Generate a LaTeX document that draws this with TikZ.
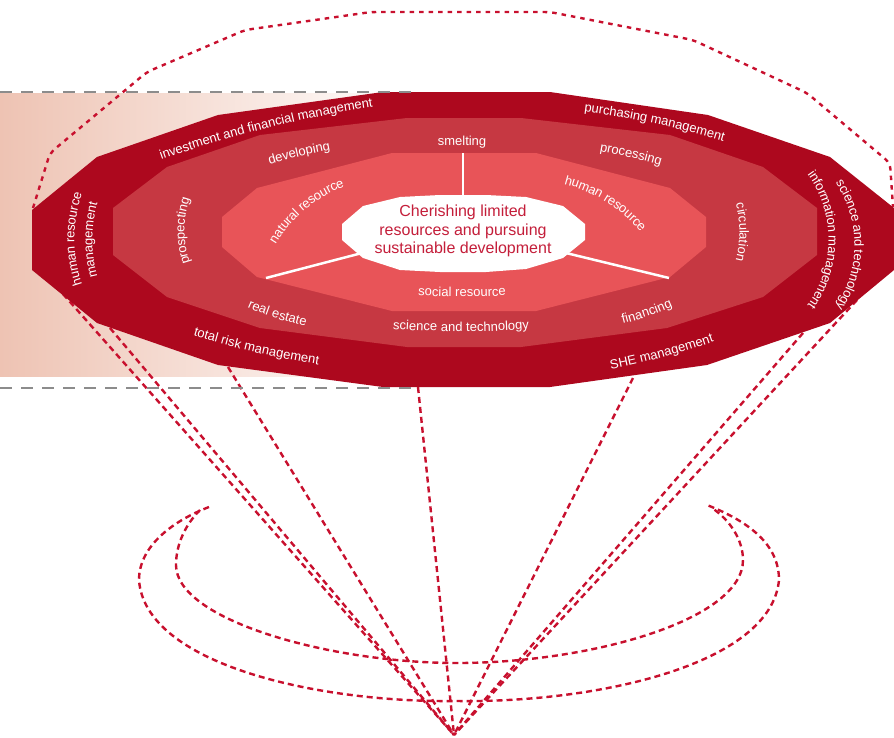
\documentclass[tikz,border=0pt]{standalone}
\usepackage{fontspec}
\setmainfont{Liberation Sans}
\usetikzlibrary{decorations.text,calc}
\definecolor{ringA}{HTML}{AD081E}
\definecolor{ringB}{HTML}{C63842}
\definecolor{ringC}{HTML}{E85458}
\definecolor{dashred}{HTML}{C8102E}
\definecolor{centretext}{HTML}{C41E3A}
\definecolor{gradL}{HTML}{EEC3B3}
\definecolor{grayd}{HTML}{8C8C8C}
\newcommand{\lbfont}{\color{white}\fontsize{13}{15}\selectfont}
\tikzset{
  labeltext/.style={decorate, decoration={text along path, text={|\lbfont|#1}, text align=center, raise=-3.5pt}},
  reddash/.style={dashred, line width=2.4pt, dash pattern=on 6pt off 4pt},
  reddot/.style={dashred, line width=2.4pt, dash pattern=on 4.5pt off 5pt, rounded corners=6pt},
  graydash/.style={grayd, line width=2pt, dash pattern=on 12pt off 9pt},
  spoke/.style={white, line width=2.5pt},
}
% clockwise arc label (letters face outward)
\newcommand{\cwtext}[5]{%
  \pgfmathsetmacro{\tA}{#3+90}%
  \pgfmathsetmacro{\tD}{180/#4*57.2958}%
  \pgfmathsetmacro{\tS}{\tA+\tD}%
  \pgfmathsetmacro{\tE}{\tA-\tD}%
  \path[labeltext={#5}] ($(#1,-#2)+(#3-90:#4)+(\tS:#4)$) arc[start angle=\tS, end angle=\tE, radius=#4];
}
% counter-clockwise arc label (letters face the centre)
\newcommand{\ccwtext}[5]{%
  \pgfmathsetmacro{\tA}{#3-90}%
  \pgfmathsetmacro{\tD}{180/#4*57.2958}%
  \pgfmathsetmacro{\tS}{\tA-\tD}%
  \pgfmathsetmacro{\tE}{\tA+\tD}%
  \path[labeltext={#5}] ($(#1,-#2)+(#3+90:#4)+(\tS:#4)$) arc[start angle=\tS, end angle=\tE, radius=#4];
}
\begin{document}
\begin{tikzpicture}[x=1pt,y=1pt]
\useasboundingbox (0,0) rectangle (894,-737);
% background gradient band
\shade[left color=gradL, right color=white] (0,-93) rectangle (420,-376);
% named coordinates
\coordinate (apex) at (454,-735);
\coordinate (sA) at (63,-294);
\coordinate (sB) at (110,-328);
\coordinate (sC) at (228,-367);
\coordinate (sD) at (418,-387);
\coordinate (sE) at (633,-378);
\coordinate (sF) at (803,-333);
\coordinate (sG) at (857,-300);
% top dotted outline
\draw[reddot] (33,-208) -- (50,-153) -- (147,-72) -- (245,-30) -- (371,-12) -- (550,-12) -- (693,-40) -- (807,-93) -- (890,-163) -- (893,-207);
% rays to apex
\foreach \s in {sA,sB,sC,sD,sE,sF,sG} \draw[reddash] (\s) -- (apex);
% loops
\draw[reddash] (209,-507) .. controls (175,-520) and (139,-545) .. (139,-580)
  .. controls (145,-665) and (320,-703) .. (457,-701)
  .. controls (596,-703) and (771,-665) .. (779,-580)
  .. controls (779,-545) and (750,-522) .. (707,-505);
\draw[reddash] (200,-510) .. controls (185,-525) and (176,-545) .. (176,-565)
  .. controls (176,-620) and (330,-663) .. (457,-663)
  .. controls (590,-663) and (743,-620) .. (743,-560)
  .. controls (743,-540) and (730,-520) .. (712,-508);
% rings
\fill[ringA] (32,-210) -- (97,-157) -- (218,-115) -- (383,-92) -- (550,-92) -- (708,-115) -- (830,-157) -- (894,-208) -- (894,-270) -- (830,-323) -- (707,-365) -- (550,-387) -- (383,-387) -- (218,-365) -- (97,-323) -- (32,-270) -- cycle;
\fill[ringB] (113,-208) -- (167,-167) -- (260,-135) -- (407,-118) -- (521,-118) -- (670,-135) -- (763,-167) -- (817,-208) -- (817,-255) -- (763,-297) -- (667,-328) -- (521,-347) -- (407,-347) -- (260,-328) -- (167,-297) -- (113,-255) -- cycle;
\fill[ringC] (222,-217) -- (257,-188) -- (392,-153) -- (536,-153) -- (670,-188) -- (706,-217) -- (706,-247) -- (670,-277) -- (536,-311) -- (392,-311) -- (257,-277) -- (222,-247) -- cycle;
% gray dashed guides
\draw[graydash] (0,-92) -- (416,-92);
\draw[graydash] (0,-388) -- (416,-388);
% spokes
\draw[spoke] (463,-153) -- (463,-197);
\draw[spoke] (266,-278) -- (362,-253);
\draw[spoke] (566,-253) -- (669,-278);
% centre shape
\fill[white] (342,-224) -- (363,-206) -- (400,-197) -- (440,-195) -- (486,-195) -- (526,-197) -- (563,-206) -- (585,-224) -- (585,-240) -- (563,-258) -- (526,-269) -- (486,-272) -- (440,-272) -- (400,-270) -- (363,-258) -- (342,-240) -- cycle;
\node[align=center, text=centretext, font=\fontsize{16}{18.5}\selectfont] (core) at (463,-231) {Cherishing limited\\resources and pursuing\\sustainable development};
% outer ring labels
\cwtext{265}{125}{14}{1200}{investment and financial management}
\cwtext{655}{120}{-12}{900}{purchasing management}
\cwtext{71}{239}{90}{140}{human resource}
\cwtext{89}{240}{90}{140}{management}
\cwtext{858}{245}{-90}{115}{science and technology}
\cwtext{832}{240}{-90}{115}{information management}
\ccwtext{256}{349}{-13}{900}{total risk management}
\ccwtext{662}{354}{15}{800}{SHE management}
% middle ring labels
\cwtext{299}{153}{13}{600}{developing}
\cwtext{462}{142}{0}{1000}{smelting}
\cwtext{631}{154}{-13}{600}{processing}
\cwtext{743}{232}{-90}{110}{circulation}
\cwtext{181}{231}{90}{100}{prospecting}
\ccwtext{277}{315}{-18}{300}{real estate}
\ccwtext{461}{328}{0}{1000}{science and technology}
\ccwtext{647}{313}{19}{300}{financing}
% inner ring labels
\cwtext{303}{207}{40}{140}{natural resource}
\cwtext{608}{199}{-32}{150}{human resource}
\ccwtext{462}{293}{0}{1000}{social resource}
\end{tikzpicture}
\end{document}
